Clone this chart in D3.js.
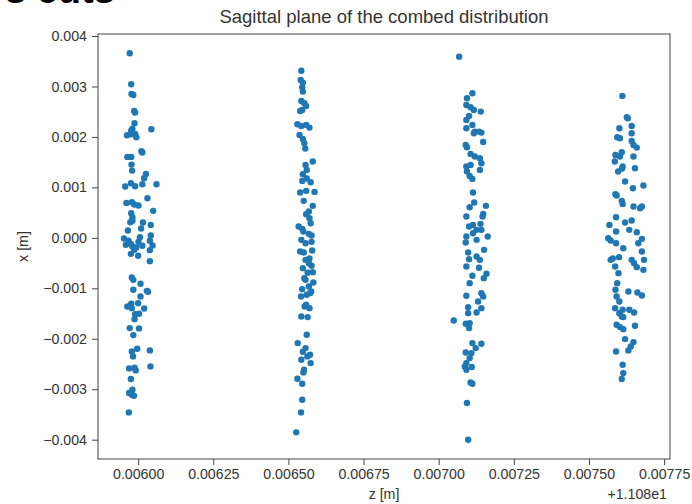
<!DOCTYPE html>
<html>
<head>
<meta charset="utf-8">
<script src="https://cdn.jsdelivr.net/npm/d3@7"></script>
<style>
  body { margin: 0; background: #fff; }
  svg text { font-family: "Liberation Sans", Arial, sans-serif; fill: #333; }
</style>
</head>
<body>
<div id="chart"></div>
<script>
// z offset shown by matplotlib as "+1.108e1"
const zOffsetLabel = "+1.108e1";
const titleText = "Sagittal plane of the combed distribution";
const headerText = "s cuts";

// [z - 11.08 (m), x (m)] for every particle, one array per comb tooth
const cut1 = [[0.005972,0.003657],[0.005977,0.003043],[0.005978,0.002851],[0.005984,0.002832],[0.005987,0.002515],[0.005990,0.002482],[0.005988,0.002271],[0.005981,0.002165],[0.005977,0.002125],[0.005963,0.002033],[0.005976,0.002053],[0.005990,0.002059],[0.005994,0.001994],[0.006044,0.002152],[0.006011,0.001716],[0.006014,0.001690],[0.005964,0.001604],[0.005977,0.001604],[0.005978,0.001452],[0.005980,0.001333],[0.006026,0.001267],[0.006020,0.001182],[0.006014,0.001063],[0.006061,0.001063],[0.005990,0.001024],[0.005976,0.001083],[0.005957,0.001017],[0.006031,0.000785],[0.005961,0.000693],[0.005979,0.000706],[0.005987,0.000660],[0.006001,0.000640],[0.006050,0.000535],[0.005977,0.000488],[0.005981,0.000403],[0.005981,0.000337],[0.005974,0.000310],[0.006016,0.000304],[0.006042,0.000257],[0.006010,0.000185],[0.005966,0.000145],[0.005953,-0.000013],[0.005968,-0.000059],[0.005976,-0.000119],[0.005959,-0.000139],[0.006006,0.000013],[0.006001,-0.000079],[0.006014,-0.000158],[0.006042,0.000046],[0.006039,-0.000059],[0.006048,-0.000152],[0.005981,-0.000172],[0.005994,-0.000191],[0.005987,-0.000238],[0.005976,-0.000317],[0.006000,-0.000356],[0.006039,-0.000244],[0.006039,-0.000462],[0.005979,-0.000785],[0.005984,-0.000832],[0.006008,-0.000911],[0.005984,-0.001030],[0.006029,-0.001050],[0.006033,-0.001069],[0.006008,-0.001162],[0.006000,-0.001294],[0.005977,-0.001307],[0.005964,-0.001360],[0.005979,-0.001393],[0.006020,-0.001399],[0.005990,-0.001512],[0.006003,-0.001505],[0.005988,-0.001611],[0.005972,-0.001789],[0.006003,-0.001795],[0.005984,-0.001927],[0.005997,-0.002198],[0.005979,-0.002251],[0.006039,-0.002231],[0.005983,-0.002350],[0.006041,-0.002548],[0.005970,-0.002587],[0.005988,-0.002574],[0.005992,-0.002627],[0.005976,-0.002798],[0.005981,-0.003010],[0.005970,-0.003076],[0.005979,-0.003109],[0.005986,-0.003129],[0.005969,-0.003459]];

const cut2 = [[0.006543,0.003313],[0.006541,0.003129],[0.006548,0.003076],[0.006546,0.002983],[0.006548,0.002898],[0.006543,0.002713],[0.006553,0.002667],[0.006559,0.002614],[0.006539,0.002515],[0.006546,0.002535],[0.006530,0.002251],[0.006543,0.002218],[0.006559,0.002238],[0.006570,0.002185],[0.006537,0.002040],[0.006548,0.001960],[0.006553,0.001875],[0.006556,0.001769],[0.006581,0.001512],[0.006557,0.001446],[0.006561,0.001347],[0.006548,0.001261],[0.006561,0.001175],[0.006546,0.001129],[0.006574,0.001102],[0.006539,0.000898],[0.006587,0.000911],[0.006559,0.000931],[0.006551,0.000733],[0.006581,0.000634],[0.006568,0.000521],[0.006559,0.000469],[0.006570,0.000390],[0.006534,0.000224],[0.006546,0.000178],[0.006574,0.000290],[0.006550,0.000125],[0.006568,0.000079],[0.006577,0.000046],[0.006543,-0.000040],[0.006557,-0.000106],[0.006577,-0.000079],[0.006539,-0.000271],[0.006551,-0.000290],[0.006579,-0.000251],[0.006570,-0.000409],[0.006557,-0.000436],[0.006568,-0.000502],[0.006548,-0.000601],[0.006577,-0.000554],[0.006581,-0.000680],[0.006564,-0.000693],[0.006553,-0.000799],[0.006557,-0.000832],[0.006583,-0.000884],[0.006568,-0.000964],[0.006546,-0.001017],[0.006576,-0.001063],[0.006572,-0.001096],[0.006561,-0.001129],[0.006542,-0.001162],[0.006559,-0.001327],[0.006554,-0.001360],[0.006570,-0.001393],[0.006543,-0.001558],[0.006564,-0.001571],[0.006561,-0.001921],[0.006531,-0.002086],[0.006557,-0.002185],[0.006548,-0.002257],[0.006563,-0.002350],[0.006572,-0.002317],[0.006543,-0.002416],[0.006574,-0.002482],[0.006552,-0.002614],[0.006550,-0.002667],[0.006530,-0.002792],[0.006546,-0.002891],[0.006546,-0.003208],[0.006542,-0.003459],[0.006526,-0.003855]];

const cut3 = [[0.007068,0.003591],[0.007112,0.002865],[0.007094,0.002766],[0.007092,0.002634],[0.007106,0.002587],[0.007117,0.002535],[0.007140,0.002502],[0.007092,0.002337],[0.007101,0.002416],[0.007112,0.002238],[0.007092,0.002172],[0.007120,0.002106],[0.007134,0.002106],[0.007142,0.002086],[0.007117,0.002073],[0.007148,0.001901],[0.007090,0.001842],[0.007094,0.001795],[0.007106,0.001663],[0.007120,0.001611],[0.007137,0.001578],[0.007142,0.001479],[0.007092,0.001413],[0.007106,0.001446],[0.007137,0.001347],[0.007094,0.001314],[0.007103,0.001228],[0.007112,0.001168],[0.007114,0.000898],[0.007118,0.000700],[0.007157,0.000634],[0.007103,0.000607],[0.007148,0.000475],[0.007092,0.000422],[0.007146,0.000422],[0.007101,0.000224],[0.007114,0.000257],[0.007139,0.000277],[0.007126,0.000158],[0.007142,0.000158],[0.007114,0.000092],[0.007163,0.000026],[0.007092,0.000026],[0.007126,-0.000040],[0.007090,-0.000092],[0.007151,-0.000238],[0.007098,-0.000290],[0.007126,-0.000370],[0.007137,-0.000436],[0.007101,-0.000422],[0.007134,-0.000594],[0.007092,-0.000568],[0.007112,-0.000752],[0.007159,-0.000713],[0.007150,-0.000799],[0.007103,-0.000898],[0.007142,-0.001096],[0.007092,-0.001149],[0.007148,-0.001162],[0.007131,-0.001261],[0.007098,-0.001373],[0.007142,-0.001393],[0.007126,-0.001479],[0.007098,-0.001492],[0.007050,-0.001637],[0.007090,-0.001703],[0.007103,-0.001690],[0.007101,-0.001789],[0.007112,-0.002086],[0.007142,-0.002099],[0.007123,-0.002185],[0.007090,-0.002271],[0.007109,-0.002284],[0.007103,-0.002383],[0.007092,-0.002482],[0.007087,-0.002548],[0.007110,-0.002561],[0.007092,-0.002614],[0.007106,-0.002865],[0.007112,-0.002891],[0.007094,-0.003274],[0.007098,-0.004000]];

const cut4 = [[0.007611,0.002812],[0.007626,0.002389],[0.007629,0.002370],[0.007601,0.002172],[0.007642,0.002218],[0.007642,0.002073],[0.007594,0.001994],[0.007603,0.001974],[0.007642,0.001921],[0.007648,0.001842],[0.007659,0.001789],[0.007588,0.001644],[0.007609,0.001696],[0.007603,0.001611],[0.007648,0.001611],[0.007586,0.001512],[0.007612,0.001413],[0.007597,0.001314],[0.007610,0.001373],[0.007653,0.001380],[0.007620,0.001116],[0.007646,0.000983],[0.007681,0.001036],[0.007588,0.000865],[0.007592,0.000838],[0.007609,0.000733],[0.007612,0.000673],[0.007648,0.000620],[0.007670,0.000587],[0.007676,0.000620],[0.007590,0.000409],[0.007620,0.000304],[0.007642,0.000343],[0.007568,0.000257],[0.007634,0.000158],[0.007659,0.000112],[0.007590,0.000125],[0.007564,-0.000007],[0.007572,-0.000053],[0.007590,-0.000106],[0.007676,-0.000020],[0.007664,-0.000106],[0.007614,-0.000205],[0.007600,-0.000383],[0.007572,-0.000436],[0.007579,-0.000409],[0.007642,-0.000436],[0.007676,-0.000271],[0.007650,-0.000502],[0.007659,-0.000581],[0.007683,-0.000436],[0.007681,-0.000634],[0.007587,-0.000568],[0.007598,-0.000700],[0.007594,-0.000898],[0.007588,-0.001030],[0.007631,-0.001063],[0.007661,-0.001083],[0.007676,-0.001142],[0.007592,-0.001162],[0.007601,-0.001261],[0.007587,-0.001393],[0.007612,-0.001426],[0.007634,-0.001426],[0.007650,-0.001479],[0.007601,-0.001492],[0.007609,-0.001558],[0.007614,-0.001571],[0.007592,-0.001723],[0.007653,-0.001743],[0.007603,-0.001769],[0.007614,-0.001809],[0.007620,-0.002007],[0.007648,-0.002066],[0.007639,-0.002152],[0.007631,-0.002231],[0.007590,-0.002251],[0.007612,-0.002515],[0.007614,-0.002680],[0.007609,-0.002798]];

const zTicks = [0.00600, 0.00625, 0.00650, 0.00675, 0.00700, 0.00725, 0.00750, 0.00775];
const zTickLabels = ["0.00600", "0.00625", "0.00650", "0.00675", "0.00700", "0.00725", "0.00750", "0.00775"];
const xTicks = [-0.004, -0.003, -0.002, -0.001, 0, 0.001, 0.002, 0.003, 0.004];
const xTickLabels = ["\u22120.004", "\u22120.003", "\u22120.002", "\u22120.001", "0.000", "0.001", "0.002", "0.003", "0.004"];

const width = 692, height = 504;
const margin = { top: 34, right: 22, bottom: 45, left: 98 };
const innerW = width - margin.left - margin.right;
const innerH = height - margin.top - margin.bottom;

const points = [].concat(cut1, cut2, cut3, cut4);

// matplotlib style autoscale: data extent plus 5% on each side
function padded(ext) {
    const pad = (ext[1] - ext[0]) * 0.05;
    return [ext[0] - pad, ext[1] + pad];
}

const x = d3.scaleLinear()
    .domain(padded(d3.extent(points, d => d[0])))
    .range([0, innerW]);

const y = d3.scaleLinear()
    .domain(padded(d3.extent(points, d => d[1])))
    .range([innerH, 0]);

const svg = d3.select("#chart")
    .append("svg")
    .attr("width", width)
    .attr("height", height);

// cut-off header from the notebook cell above
svg.append("text")
    .attr("x", 5)
    .attr("y", 3)
    .attr("font-size", 38)
    .attr("font-weight", "bold")
    .style("fill", "#000")
    .text(headerText);

const g = svg.append("g")
    .attr("transform", `translate(${margin.left},${margin.top})`);

const xAxis = g.append("g")
    .attr("transform", `translate(0,${innerH})`)
    .call(d3.axisBottom(x)
        .tickValues(zTicks)
        .tickFormat((d, i) => zTickLabels[i])
        .tickSize(6)
        .tickPadding(4)
        .tickSizeOuter(0));

const yAxis = g.append("g")
    .call(d3.axisLeft(y)
        .tickValues(xTicks)
        .tickFormat((d, i) => xTickLabels[i])
        .tickSize(6)
        .tickPadding(5)
        .tickSizeOuter(0));

[xAxis, yAxis].forEach(a => {
    a.select(".domain").remove();
    a.selectAll(".tick line").attr("stroke", "#444");
    a.selectAll(".tick text")
        .attr("font-size", 14.2)
        .attr("font-family", null)
        .style("fill", "#333");
});

g.selectAll("circle")
    .data(points)
    .join("circle")
    .attr("cx", d => x(d[0]))
    .attr("cy", d => y(d[1]))
    .attr("r", 3.2)
    .attr("fill", "#1f77b4");

// frame
g.append("rect")
    .attr("width", innerW)
    .attr("height", innerH)
    .attr("fill", "none")
    .attr("stroke", "#444")
    .attr("stroke-width", 1);

g.append("text")
    .attr("x", innerW / 2)
    .attr("y", -11)
    .attr("text-anchor", "middle")
    .attr("font-size", 18.5)
    .text(titleText);

g.append("text")
    .attr("x", innerW / 2)
    .attr("y", innerH + 40)
    .attr("text-anchor", "middle")
    .attr("font-size", 14.2)
    .text("z [m]");

g.append("text")
    .attr("x", innerW - 3)
    .attr("y", innerH + 40)
    .attr("text-anchor", "end")
    .attr("font-size", 14.2)
    .text(zOffsetLabel);

g.append("text")
    .attr("transform", `translate(${-70},${innerH / 2}) rotate(-90)`)
    .attr("text-anchor", "middle")
    .attr("font-size", 14.2)
    .text("x [m]");
</script>
</body>
</html>
